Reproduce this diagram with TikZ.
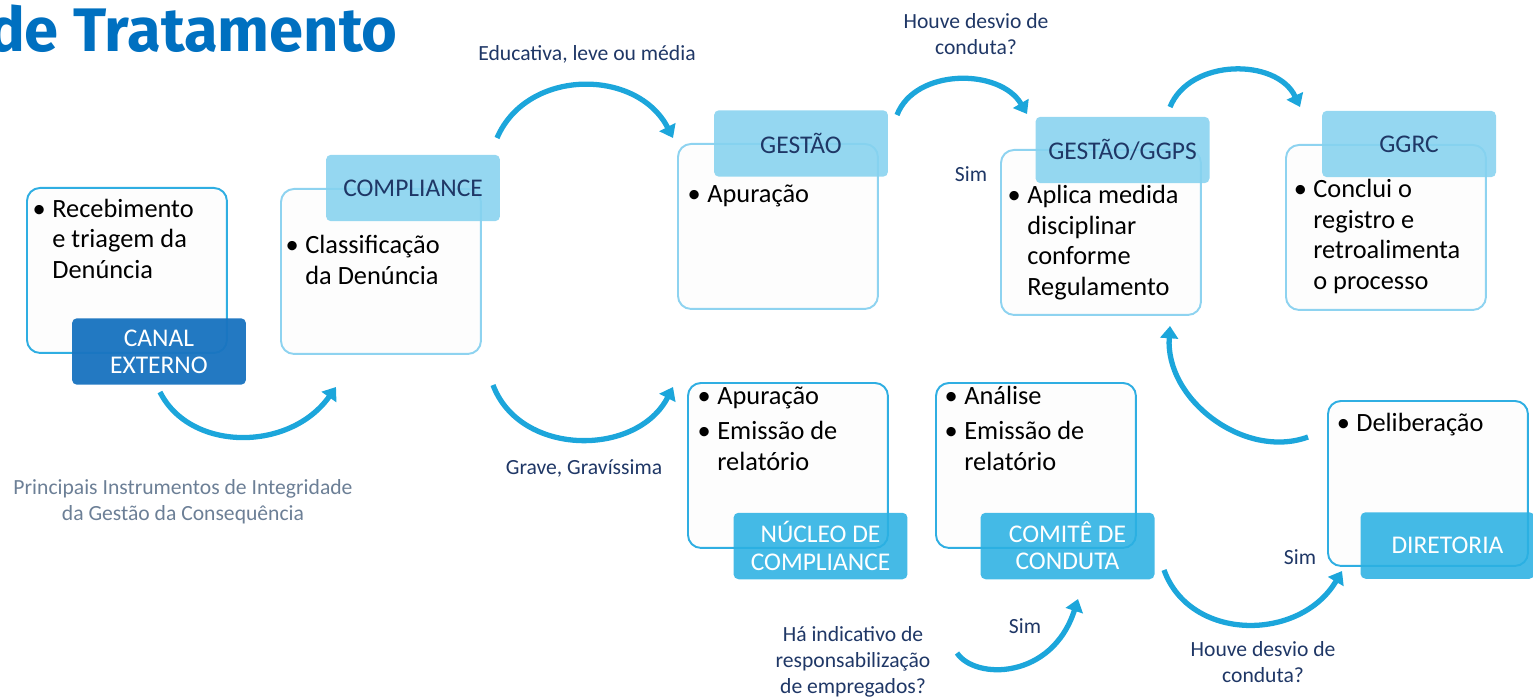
\documentclass[tikz,border=0pt]{standalone}
\usepackage{fontspec}
\setmainfont{Carlito}
\newfontfamily\titlefont{Fira Sans}
\usetikzlibrary{arrows.meta}
\definecolor{arrowc}{HTML}{1CA6DB}
\definecolor{bordS}{HTML}{2FAEE2}
\definecolor{bordL}{HTML}{8ED3F0}
\definecolor{lblLc}{HTML}{86D2EF}
\definecolor{lblMc}{HTML}{2BB1E3}
\definecolor{lblDc}{HTML}{1A74C0}
\definecolor{navy}{HTML}{1F3766}
\definecolor{graytxt}{HTML}{6C7F96}
\definecolor{titleblue}{HTML}{0070C0}
\definecolor{boxfill}{HTML}{FDFDFD}
\newcommand\bul{\llap{\textbullet\hspace{0.13cm}}}
\begin{document}
\begin{tikzpicture}[x=0.02cm,y=-0.02cm,
 wbox/.style={rectangle, rounded corners=0.26cm, fill=boxfill, line width=1.1pt,
   minimum width=4cm, minimum height=3.3cm, anchor=north west, inner sep=0},
 strong/.style={wbox, draw=bordS},
 light/.style={wbox, draw=bordL},
 lbl/.style={rectangle, rounded corners=0.1cm, minimum width=3.48cm, minimum height=1.33cm,
   inner sep=0, align=center, fill opacity=0.88, text opacity=1,
   font=\fontsize{14.5}{15.5}\selectfont},
 lblL/.style={lbl, fill=lblLc, text=navy},
 lblM/.style={lbl, fill=lblMc, text=white},
 lblD/.style={lbl, fill=lblDc, text=white, fill opacity=0.96},
 body/.style={anchor=base west, inner sep=0, align=left, font=\fontsize{15}{17.3}\selectfont},
 note/.style={inner sep=0, align=center, text=navy, font=\fontsize{12.3}{14.8}\selectfont},
 flow/.style={draw=arrowc, line width=3pt, -{Triangle[width=10pt,length=7pt]}}
]
\useasboundingbox (0,0) rectangle (1533,699);

% title
\node[anchor=base east, inner sep=0, text=titleblue,
  font=\titlefont\bfseries\fontsize{35}{40}\selectfont] (title) at (398,52) {de Tratamento};

% CANAL EXTERNO (base = last line)
\node[strong] (canalB) at (26,187) {};
\node[lblD] (canalL) at (159,351.5) {CANAL\\EXTERNO};
\node[body] (canalT) at (52,278) {\bul Recebimento\\e triagem da\\Denúncia};

% COMPLIANCE
\node[light] (compB) at (280,188) {};
\node[lblL] (compL) at (413,188) {COMPLIANCE};
\node[body] (compT) at (305,284) {\bul Classificação\\da Denúncia};

% GESTAO
\node[light] (gestB) at (677,143) {};
\node[lblL] (gestL) at (801,143.5) {GESTÃO};
\node[body] (gestT) at (707,202) {\bul Apuração};

% GESTAO/GGPS
\node[light] (ggpsB) at (1000,149) {};
\node[lblL] (ggpsL) at (1122.5,150) {GESTÃO/GGPS};
\node[body] (ggpsT) at (1027,295) {\bul Aplica medida\\disciplinar\\conforme\\Regulamento};

% GGRC
\node[light] (ggrcB) at (1285,144) {};
\node[lblL] (ggrcL) at (1409,144) {GGRC};
\node[body] (ggrcT) at (1313,289) {\bul Conclui o\\registro e\\retroalimenta\\o processo};

% NUCLEO DE COMPLIANCE
\node[strong] (nucB) at (687,382) {};
\node[lblM] (nucL) at (820.5,546) {NÚCLEO DE\\COMPLIANCE};
\node[body] (nucT) at (717,470) {\bul Apuração\\[2.8pt]\bul Emissão de\\relatório};

% COMITE DE CONDUTA
\node[strong] (comB) at (935,382) {};
\node[lblM] (comL) at (1067.5,546) {COMITÊ DE\\CONDUTA};
\node[body] (comT) at (964,470) {\bul Análise\\[2.8pt]\bul Emissão de\\relatório};

% DIRETORIA
\node[strong] (dirB) at (1327,400) {};
\node[lblM] (dirL) at (1447.5,545.5) {DIRETORIA};
\node[body] (dirT) at (1356,431) {\bul Deliberação};

% connector end points
\coordinate (a1) at (160,392); \coordinate (a2) at (336,387);
\coordinate (b1) at (497,138); \coordinate (b2) at (673,138);
\coordinate (c1) at (493,385); \coordinate (c2) at (673,387);
\coordinate (d1) at (897,115); \coordinate (d2) at (1027,114);
\coordinate (e1) at (1170,107); \coordinate (e2) at (1300,107);
\coordinate (f1) at (1308,437); \coordinate (f2) at (1170,326);
\coordinate (g1) at (957,653); \coordinate (g2) at (1078,599);
\coordinate (h1) at (1164,570); \coordinate (h2) at (1342,571);

\draw[flow] (a1) .. controls (190,452) and (290,452) .. (a2);
\draw[flow] (b1) .. controls (527,68) and (637,68) .. (b2);
\draw[flow] (c1) .. controls (520,457) and (637,457) .. (c2);
\draw[flow] (d1) .. controls (915,68) and (1000,68) .. (d2);
\draw[flow] (e1) .. controls (1190,58) and (1277,58) .. (e2);
\draw[flow] (f1) .. controls (1245,460) and (1165,400) .. (f2);
\draw[flow] (g1) .. controls (975,680) and (1052,680) .. (g2);
\draw[flow] (h1) .. controls (1190,642) and (1300,642) .. (h2);

% annotations
\node[note] (nEdu) at (587,54) {Educativa, leve ou média};
\node[note] (nGrave) at (584,468) {Grave, Gravíssima};
\node[note] (nHouve1) at (976,34) {Houve desvio de\\conduta?};
\node[note] (nSim1) at (971,174) {Sim};
\node[note] (nHa) at (853,662) {Há indicativo de\\responsabilização\\de empregados?};
\node[note] (nSim2) at (1025,626) {Sim};
\node[note] (nSim3) at (1300,557) {Sim};
\node[note] (nHouve2) at (1263,662) {Houve desvio de\\conduta?};
\node[note, text=graytxt] (nPrinc) at (183,502) {Principais Instrumentos de Integridade\\da Gestão da Consequência};
\end{tikzpicture}
\end{document}
